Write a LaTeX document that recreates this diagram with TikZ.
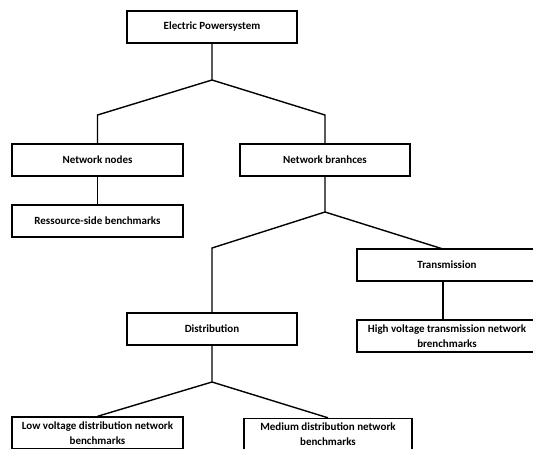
\documentclass[tikz,border=0pt]{standalone}
\usepackage{fontspec}
\setmainfont{Carlito}
\begin{document}
\begin{tikzpicture}[x=1pt,y=-1pt,
  box/.style={draw,line width=1.4pt,minimum width=170pt,minimum height=32pt,inner sep=0pt,align=center,font=\fontsize{11}{15}\selectfont\bfseries},
  conn/.style={line width=1.4pt}]
\useasboundingbox (0,0) rectangle (533,448);
\node[box] (top) at (212,27) {Electric Powersystem};
\node[box,minimum width=171pt] (nn) at (97.5,160) {Network nodes};
\node[box] (nb) at (325,160) {Network branhces};
\node[box,minimum width=171pt] (rs) at (97.5,221) {Ressource-side benchmarks};
\node[box,minimum width=180pt] (tr) at (447,265) {Transmission};
\node[box] (di) at (212,329) {Distribution};
\node[box,minimum width=180pt] (hv) at (447,336) {High voltage transmission network\\brenchmarks};
\node[box,minimum width=171pt] (lv) at (97.5,433) {Low voltage distribution network\\benchmarks};
\node[box,minimum width=168pt] (md) at (328,434.5) {Medium distribution network\\benchmarks};
\coordinate (j1) at (212,80);
\coordinate (k1) at (97.5,115);
\coordinate (k2) at (325,115);
\coordinate (j2) at (325,212);
\coordinate (k3) at (212,248);
\coordinate (j3) at (212,382);
\coordinate (t1) at (443,249);
\coordinate (t2) at (443,281);
\coordinate (t3) at (443,320);
\draw[conn] (top) -- (j1) -- (k1) -- (nn);
\draw[conn] (j1) -- (k2) -- (nb);
\draw[conn] (nn) -- (rs);
\draw[conn] (nb) -- (j2) -- (k3) -- (di);
\draw[conn] (j2) -- (t1);
\draw[conn] (t2) -- (t3);
\draw[conn] (di) -- (j3) -- (lv.north);
\draw[conn] (j3) -- (md.north);
\end{tikzpicture}
\end{document}
